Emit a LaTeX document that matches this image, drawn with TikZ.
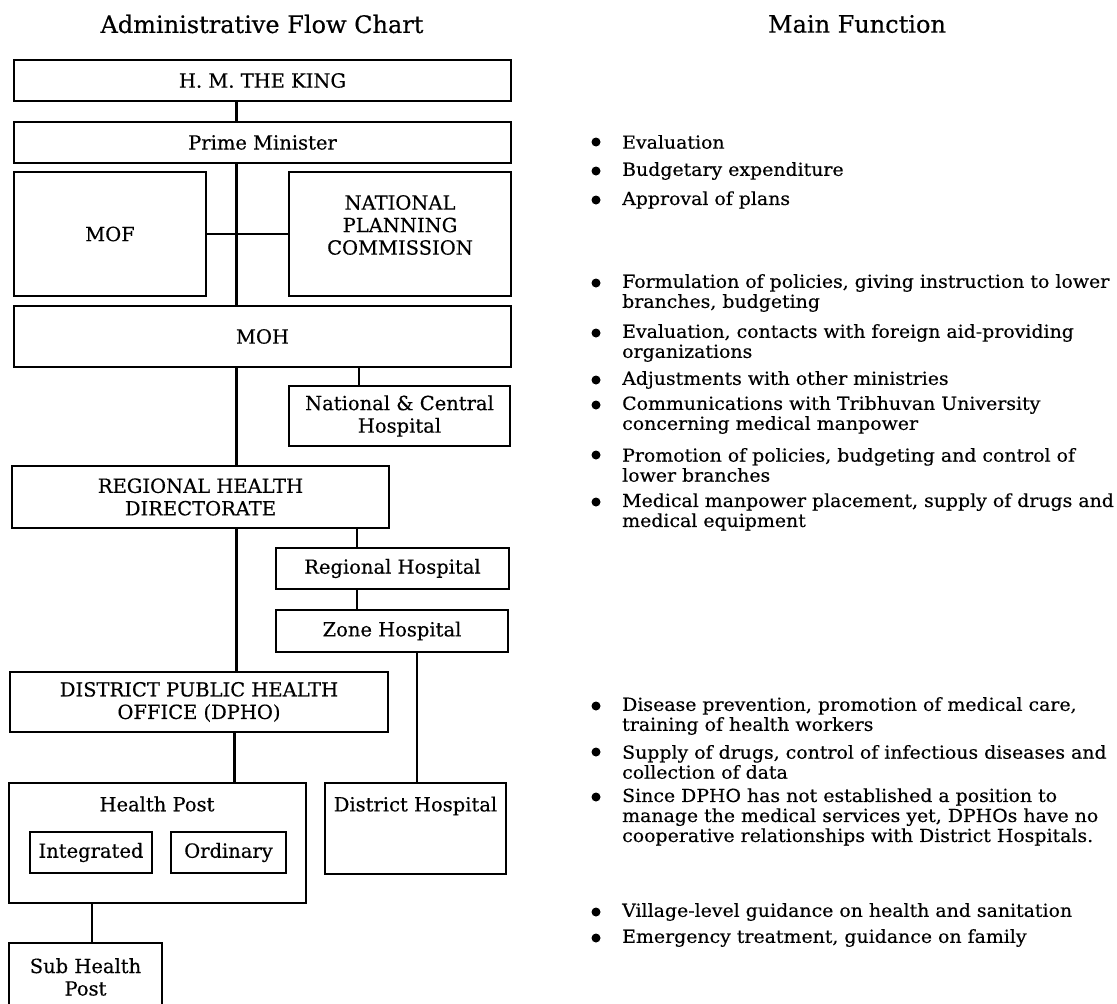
\documentclass[tikz,border=0pt]{standalone}
\usepackage{fontspec}
\setmainfont{DejaVu Serif}[FakeBold=0.4]
\newfontfamily\fcwide{DejaVu Serif}[FakeStretch=1.05, FakeBold=0.4]
\newcommand{\fcbody}{\fcwide\fontsize{18}{20}\selectfont}
\newcommand{\fcbox}{\fontsize{19.5}{22.5}\selectfont}
\newcommand{\fctitle}{\fontsize{24}{26}\selectfont}
\begin{document}
\begin{tikzpicture}[x=1pt,y=-1pt,
  box/.style={draw, line width=2.2pt, inner sep=0pt, align=center, font=\fcbox},
  link/.style={line width=2.2pt},
  lbl/.style={inner sep=0pt, align=center, font=\fcbox},
  fn/.style={anchor=west, align=left, inner sep=0pt, font=\fcbody},
  dot/.style={circle, fill, inner sep=0pt, minimum size=9pt},
  head/.style={inner sep=0pt, font=\fctitle}]
\useasboundingbox (0,0) rectangle (1117,1004);
\clip (0,0) rectangle (1117,1004);

% column headings
\node[head] (h1) at (262,24) {Administrative Flow Chart};
\node[head] (h2) at (857,24) {Main Function};

% organisation boxes
\node[box, minimum width=497pt, minimum height=41pt]  (king) at (262.5,80.5) {H. M. THE KING};
\node[box, minimum width=497pt, minimum height=41pt]  (pm)   at (262.5,142.5) {Prime Minister};
\node[box, minimum width=192pt, minimum height=124pt] (mof)  at (110,234) {MOF};
\node[box, minimum width=222pt, minimum height=124pt] (npc)  at (400,234) {};
\node[lbl] (npcl) at (400,225) {NATIONAL\\PLANNING\\COMMISSION};
\node[box, minimum width=497pt, minimum height=61pt]  (moh)  at (262.5,336.5) {MOH};
\node[box, minimum width=221pt, minimum height=60pt]  (nch)  at (399.5,416) {National \& Central\\Hospital};
\node[box, minimum width=377pt, minimum height=62pt]  (rhd)  at (200.5,497) {REGIONAL HEALTH\\DIRECTORATE};
\node[box, minimum width=233pt, minimum height=41pt]  (rh)   at (392.5,568.5) {Regional Hospital};
\node[box, minimum width=232pt, minimum height=42pt]  (zh)   at (392,631) {Zone Hospital};
\node[box, minimum width=378pt, minimum height=60pt]  (dpho) at (199,702) {DISTRICT PUBLIC HEALTH\\OFFICE (DPHO)};
\node[box, minimum width=297pt, minimum height=120pt] (hp)   at (157.5,843) {};
\node[lbl] (hpl) at (157,804) {Health Post};
\node[box, minimum width=122pt, minimum height=41pt]  (integ) at (91,852.5) {Integrated};
\node[box, minimum width=115pt, minimum height=41pt]  (ordin) at (228.5,852.5) {Ordinary};
\node[box, minimum width=181pt, minimum height=91pt]  (dh)   at (415.5,828.5) {};
\node[lbl] (dhl) at (415.5,806) {District Hospital};
\node[box, minimum width=153pt, minimum height=68pt]  (shp)  at (85.5,977) {Sub Health\\Post};

% vertical runs of the connectors
\coordinate (trunk) at (236.5,0);
\coordinate (trunkb) at (234.5,0);
\coordinate (nchx) at (359,0);
\coordinate (rhx) at (357,0);
\coordinate (dhx) at (417,0);
\coordinate (shpx) at (92,0);

\draw[link] (king.south -| trunk) -- (pm.north -| trunk);
\draw[link] (pm.south -| trunk) -- (moh.north -| trunk);
\draw[link] (mof.east) -- (npc.west);
\draw[link] (moh.south -| trunk) -- (rhd.north -| trunk);
\draw[link] (moh.south -| nchx) -- (nch.north -| nchx);
\draw[link] (rhd.south -| trunk) -- (dpho.north -| trunk);
\draw[link] (rhd.south -| rhx) -- (rh.north -| rhx);
\draw[link] (rh.south -| rhx) -- (zh.north -| rhx);
\draw[link] (zh.south -| dhx) -- (dh.north -| dhx);
\draw[link] (dpho.south -| trunkb) -- (hp.north -| trunkb);
\draw[link] (hp.south -| shpx) -- (shp.north -| shpx);

% main functions
\node[dot] (d1) at (596,142) {};
\node[fn]  (f1) at (622,142) {Evaluation};
\node[dot] (d2) at (596,171) {};
\node[fn]  (f2) at (622,171) {Budgetary expenditure};
\node[dot] (d3) at (596,200) {};
\node[fn]  (f3) at (622,200) {Approval of plans};

\node[dot] (d4) at (596,283) {};
\node[fn]  (f4) at (622,293) {Formulation of policies, giving instruction to lower\\branches, budgeting};
\node[dot] (d5) at (596,333) {};
\node[fn]  (f5) at (622,343) {Evaluation, contacts with foreign aid-providing\\organizations};
\node[dot] (d6) at (596,380) {};
\node[fn]  (f6) at (622,380) {Adjustments with other ministries};
\node[dot] (d7) at (596,405) {};
\node[fn]  (f7) at (622,415) {Communications with Tribhuvan University\\concerning medical manpower};
\node[dot] (d8) at (596,455) {};
\node[fn]  (f8) at (622,465) {Promotion of policies, budgeting and control of\\lower branches};
\node[dot] (d9) at (596,502) {};
\node[fn]  (f9) at (622,512) {Medical manpower placement, supply of drugs and\\medical equipment};

\node[dot] (d10) at (596,706) {};
\node[fn]  (f10) at (622,716) {Disease prevention, promotion of medical care,\\training of health workers};
\node[dot] (d11) at (596,752) {};
\node[fn]  (f11) at (622,762) {Supply of drugs, control of infectious diseases and\\collection of data};
\node[dot] (d12) at (596,797) {};
\node[fn]  (f12) at (622,817) {Since DPHO has not established a position to\\manage the medical services yet, DPHOs have no\\cooperative relationships with District Hospitals.};

\node[dot] (d13) at (596,912) {};
\node[fn]  (f13) at (622,912) {Village-level guidance on health and sanitation};
\node[dot] (d14) at (596,938) {};
\node[fn]  (f14) at (622,938) {Emergency treatment, guidance on family};
\end{tikzpicture}
\end{document}
